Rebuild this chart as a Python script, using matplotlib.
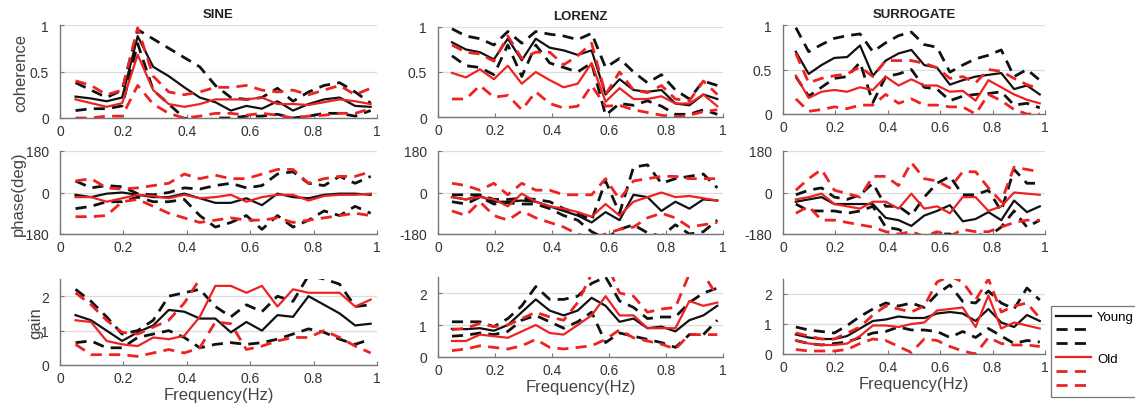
import numpy as np
from matplotlib import pyplot as plt
from matplotlib.lines import Line2D

# frequências (Hz)
freq = [0.049, 0.098, 0.147, 0.196, 0.245, 0.294, 0.343, 0.392, 0.441, 0.490,
        0.539, 0.588, 0.637, 0.686, 0.735, 0.784, 0.833, 0.882, 0.931, 0.980]

titles = ["SINE", "LORENZ", "SURROGATE"]
ylabels = ["coherence", "phase(deg)", "gain"]

# ---------------- coherence ----------------
sine_coh_young = [0.23, 0.21, 0.18, 0.22, 0.88, 0.55, 0.45, 0.33, 0.22, 0.17, 0.08, 0.13, 0.10, 0.18, 0.08, 0.15, 0.20, 0.22, 0.13, 0.12]
sine_coh_young_hi = [0.38, 0.30, 0.22, 0.30, 0.95, 0.85, 0.75, 0.65, 0.55, 0.35, 0.22, 0.20, 0.22, 0.32, 0.18, 0.28, 0.35, 0.38, 0.28, 0.16]
sine_coh_young_lo = [0.08, 0.10, 0.10, 0.13, 0.80, 0.30, 0.15, 0.00, -0.05, 0.00, 0.00, 0.02, 0.02, 0.04, 0.00, 0.02, 0.05, 0.05, 0.02, 0.08]
sine_coh_old = [0.20, 0.16, 0.12, 0.16, 0.68, 0.30, 0.15, 0.12, 0.15, 0.20, 0.20, 0.20, 0.22, 0.15, 0.15, 0.14, 0.17, 0.20, 0.18, 0.15]
sine_coh_old_hi = [0.40, 0.35, 0.25, 0.30, 0.97, 0.45, 0.28, 0.25, 0.28, 0.33, 0.33, 0.35, 0.30, 0.28, 0.30, 0.25, 0.30, 0.35, 0.25, 0.32]
sine_coh_old_lo = [0.00, 0.00, 0.02, 0.02, 0.35, 0.15, 0.05, 0.00, 0.02, 0.05, 0.05, 0.03, 0.05, 0.03, 0.00, 0.02, 0.03, 0.05, 0.05, 0.10]

lor_coh_young = [0.83, 0.75, 0.72, 0.64, 0.87, 0.63, 0.87, 0.77, 0.74, 0.69, 0.74, 0.25, 0.42, 0.30, 0.28, 0.30, 0.15, 0.13, 0.25, 0.20]
lor_coh_young_hi = [0.98, 0.90, 0.87, 0.80, 0.95, 0.82, 0.95, 0.92, 0.90, 0.86, 0.93, 0.55, 0.65, 0.50, 0.38, 0.47, 0.30, 0.20, 0.40, 0.35]
lor_coh_young_lo = [0.68, 0.57, 0.55, 0.47, 0.80, 0.45, 0.80, 0.60, 0.55, 0.50, 0.60, 0.02, 0.15, 0.13, 0.18, 0.12, 0.03, 0.03, 0.08, 0.03]
lor_coh_old = [0.49, 0.44, 0.53, 0.42, 0.57, 0.37, 0.50, 0.41, 0.33, 0.37, 0.60, 0.17, 0.32, 0.20, 0.20, 0.23, 0.15, 0.15, 0.25, 0.12]
lor_coh_old_hi = [0.80, 0.72, 0.70, 0.62, 0.90, 0.65, 0.72, 0.72, 0.58, 0.68, 0.82, 0.25, 0.50, 0.30, 0.27, 0.35, 0.20, 0.18, 0.40, 0.25]
lor_coh_old_lo = [0.20, 0.20, 0.35, 0.22, 0.24, 0.08, 0.28, 0.15, 0.10, 0.12, 0.35, 0.12, 0.13, 0.08, 0.05, 0.02, 0.00, 0.02, 0.06, 0.08]

sur_coh_young = [0.70, 0.45, 0.55, 0.63, 0.64, 0.77, 0.43, 0.60, 0.68, 0.72, 0.55, 0.52, 0.33, 0.38, 0.42, 0.44, 0.46, 0.28, 0.32, 0.22]
sur_coh_young_hi = [0.97, 0.70, 0.78, 0.85, 0.88, 0.90, 0.70, 0.80, 0.88, 0.92, 0.78, 0.75, 0.47, 0.55, 0.62, 0.66, 0.72, 0.42, 0.50, 0.38]
sur_coh_young_lo = [0.42, 0.20, 0.30, 0.40, 0.42, 0.58, 0.13, 0.42, 0.45, 0.50, 0.30, 0.28, 0.15, 0.20, 0.22, 0.23, 0.25, 0.10, 0.12, 0.07]
sur_coh_old = [0.43, 0.18, 0.25, 0.27, 0.25, 0.30, 0.27, 0.42, 0.32, 0.39, 0.32, 0.32, 0.25, 0.26, 0.15, 0.38, 0.30, 0.22, 0.16, 0.12]
sur_coh_old_hi = [0.68, 0.35, 0.40, 0.43, 0.45, 0.53, 0.42, 0.60, 0.60, 0.60, 0.57, 0.52, 0.40, 0.42, 0.35, 0.50, 0.48, 0.40, 0.33, 0.28]
sur_coh_old_lo = [0.17, 0.03, 0.05, 0.08, 0.06, 0.10, 0.10, 0.22, 0.12, 0.17, 0.10, 0.10, 0.08, 0.08, 0.00, 0.22, 0.15, 0.05, 0.00, 0.00]

# ---------------- phase ----------------
sine_ph_young = [-10, -20, -5, 0, -10, -20, -20, -5, -25, -45, -45, -25, -55, -5, -20, -25, -10, -5, -5, -10]
sine_ph_young_hi = [50, 20, 30, 25, -5, -10, 0, 20, 15, 30, 40, 20, 30, 80, 90, 40, 30, 70, 40, 70]
sine_ph_young_lo = [-70, -60, -40, -40, -20, -40, -40, -30, -100, -150, -130, -100, -160, -100, -150, -120, -80, -100, -60, -90]
sine_ph_old = [-20, -20, -40, -25, -10, -15, -25, -10, -25, -20, -10, -40, -20, -10, -10, -35, -15, -10, -10, -5]
sine_ph_old_hi = [50, 60, 20, 15, 20, 30, 40, 80, 60, 75, 60, 60, 80, 100, 100, 40, 60, 70, 70, 90]
sine_ph_old_lo = [-105, -105, -100, -40, -30, -60, -90, -110, -130, -120, -110, -120, -120, -110, -130, -120, -110, -100, -90, -100]

lor_ph_young = [-20, -30, -15, -40, -40, -35, -40, -60, -80, -100, -130, -85, -120, -10, -20, -80, -40, -70, -30, -35]
lor_ph_young_hi = [-10, -10, -10, -30, -30, -25, -30, -40, -70, -90, -120, 50, -90, 110, 120, 40, 60, 70, 80, 20]
lor_ph_young_lo = [-40, -50, -20, -50, -45, -50, -50, -70, -100, -120, -170, -200, -160, -140, -175, -190, -140, -180, -170, -120]
lor_ph_old = [-20, -30, -20, -30, -60, -5, -40, -60, -70, -85, -105, -50, -100, -40, -20, 0, -20, -15, -25, -35]
lor_ph_old_hi = [40, 30, 10, 40, -10, 40, 10, 10, -10, -10, -10, 60, -30, 50, 60, 70, 70, 60, 60, 60]
lor_ph_old_lo = [-80, -100, -40, -100, -120, -80, -110, -130, -150, -180, -200, -180, -160, -150, -110, -90, -110, -150, -140, -130]

sur_ph_young = [-40, -30, -20, -50, -50, -50, -50, -110, -120, -145, -100, -80, -55, -125, -115, -85, -120, -35, -85, -60]
sur_ph_young_hi = [-10, 10, 20, -20, -30, -10, 40, -60, -60, -100, -20, 40, 70, -10, -10, 10, -80, 100, 40, 40]
sur_ph_young_lo = [-50, -80, -80, -80, -90, -80, -60, -150, -160, -190, -190, -180, -180, -200, -180, -190, -150, -80, -150, -120]
sur_ph_old = [-30, -20, -5, -50, -60, -70, -40, -40, -70, -5, -70, -60, -90, -20, -20, -80, -60, 0, -5, -10]
sur_ph_old_hi = [10, 60, 100, 10, -5, -20, 70, 70, 30, 130, 60, 50, 20, 90, 90, 20, -40, 110, 100, 90]
sur_ph_old_lo = [-90, -60, -120, -120, -130, -140, -150, -170, -180, -170, -190, -170, -190, -160, -170, -170, -150, -130, -120, -120]

# ---------------- gain ----------------
sine_g_young = [1.45, 1.30, 1.00, 0.70, 0.95, 1.15, 1.60, 1.55, 1.35, 1.35, 0.95, 1.25, 1.00, 1.45, 1.40, 2.00, 1.75, 1.50, 1.15, 1.20]
sine_g_young_hi = [2.20, 1.85, 1.40, 0.90, 1.00, 1.30, 2.00, 2.10, 2.20, 1.70, 1.40, 1.75, 1.55, 2.00, 1.85, 2.60, 2.50, 2.35, 1.70, 1.75]
sine_g_young_lo = [0.65, 0.70, 0.50, 0.50, 0.80, 0.90, 1.00, 0.80, 0.50, 0.60, 0.65, 0.60, 0.65, 0.75, 0.90, 1.05, 0.95, 0.75, 0.60, 0.75]
sine_g_old = [1.30, 1.25, 0.70, 0.60, 0.55, 0.80, 0.75, 0.85, 1.40, 2.30, 2.30, 2.10, 2.30, 1.70, 2.20, 2.10, 2.10, 2.10, 1.70, 1.90]
sine_g_old_hi = [2.10, 1.75, 1.30, 0.95, 0.90, 1.10, 1.30, 1.80, 2.50, 3.00, 3.20, 3.00, 3.20, 2.80, 3.10, 3.00, 3.00, 3.00, 2.70, 2.80]
sine_g_old_lo = [0.60, 0.30, 0.30, 0.30, 0.25, 0.35, 0.45, 0.35, 0.50, 1.25, 1.20, 0.45, 0.55, 0.70, 0.80, 0.80, 1.00, 0.80, 0.55, 0.35]

lor_g_young = [0.88, 0.87, 0.90, 0.82, 1.00, 1.40, 1.80, 1.45, 1.30, 1.45, 1.85, 1.60, 1.10, 1.20, 0.90, 0.95, 0.80, 1.15, 1.30, 1.60]
lor_g_young_hi = [1.10, 1.10, 1.10, 0.95, 1.20, 1.60, 2.20, 1.80, 1.80, 1.90, 2.30, 2.50, 1.75, 1.55, 1.20, 1.25, 1.25, 1.70, 2.00, 2.15]
lor_g_young_lo = [0.65, 0.68, 0.75, 0.70, 0.80, 1.15, 1.30, 1.10, 0.90, 1.10, 1.40, 0.45, 0.75, 0.65, 0.55, 0.45, 0.30, 0.70, 0.70, 1.15]
lor_g_old = [0.50, 0.50, 0.70, 0.65, 0.60, 0.80, 1.00, 0.75, 0.70, 1.00, 1.30, 1.90, 1.30, 1.30, 0.90, 0.90, 0.90, 1.75, 1.60, 1.70]
lor_g_old_hi = [0.85, 0.90, 1.05, 0.95, 1.00, 1.20, 1.40, 1.25, 1.15, 1.70, 2.60, 3.00, 2.00, 1.90, 1.40, 1.50, 1.55, 2.60, 2.60, 1.90]
lor_g_old_lo = [0.20, 0.25, 0.35, 0.30, 0.25, 0.35, 0.55, 0.30, 0.25, 0.30, 0.35, 0.55, 0.85, 0.60, 0.50, 0.40, 0.25, 0.70, 0.70, 0.70]

sur_g_young = [0.65, 0.55, 0.50, 0.50, 0.60, 0.85, 1.10, 1.15, 1.25, 1.20, 1.20, 1.35, 1.40, 1.35, 1.10, 1.50, 1.05, 0.90, 1.30, 1.10]
sur_g_young_hi = [0.90, 0.80, 0.75, 0.70, 0.95, 1.25, 1.50, 1.70, 1.60, 1.70, 1.55, 2.00, 2.30, 1.75, 1.70, 2.10, 1.70, 1.50, 2.20, 1.80]
sur_g_young_lo = [0.45, 0.35, 0.30, 0.35, 0.40, 0.55, 0.70, 0.75, 0.90, 0.80, 0.80, 0.75, 0.55, 0.75, 0.55, 0.85, 0.60, 0.35, 0.45, 0.40]
sur_g_old = [0.45, 0.35, 0.30, 0.30, 0.35, 0.60, 0.95, 0.95, 0.90, 1.00, 1.05, 1.45, 1.50, 1.55, 0.90, 1.95, 0.85, 1.05, 0.95, 0.85]
sur_g_old_hi = [0.70, 0.60, 0.50, 0.50, 0.70, 0.90, 1.30, 1.60, 1.50, 1.40, 1.60, 2.40, 2.60, 2.40, 1.80, 2.50, 1.40, 1.60, 1.70, 1.20]
sur_g_old_lo = [0.15, 0.10, 0.10, 0.10, 0.15, 0.35, 0.50, 0.45, 0.25, 0.05, 0.50, 0.45, 0.25, 0.10, 0.00, 0.55, 0.35, 0.30, 0.30, 0.25]

# grade de dados [linha][coluna] -> (jovem, jovem_sup, jovem_inf, idoso, idoso_sup, idoso_inf)
panels = [
    [(sine_coh_young, sine_coh_young_hi, sine_coh_young_lo, sine_coh_old, sine_coh_old_hi, sine_coh_old_lo),
     (lor_coh_young, lor_coh_young_hi, lor_coh_young_lo, lor_coh_old, lor_coh_old_hi, lor_coh_old_lo),
     (sur_coh_young, sur_coh_young_hi, sur_coh_young_lo, sur_coh_old, sur_coh_old_hi, sur_coh_old_lo)],
    [(sine_ph_young, sine_ph_young_hi, sine_ph_young_lo, sine_ph_old, sine_ph_old_hi, sine_ph_old_lo),
     (lor_ph_young, lor_ph_young_hi, lor_ph_young_lo, lor_ph_old, lor_ph_old_hi, lor_ph_old_lo),
     (sur_ph_young, sur_ph_young_hi, sur_ph_young_lo, sur_ph_old, sur_ph_old_hi, sur_ph_old_lo)],
    [(sine_g_young, sine_g_young_hi, sine_g_young_lo, sine_g_old, sine_g_old_hi, sine_g_old_lo),
     (lor_g_young, lor_g_young_hi, lor_g_young_lo, lor_g_old, lor_g_old_hi, lor_g_old_lo),
     (sur_g_young, sur_g_young_hi, sur_g_young_lo, sur_g_old, sur_g_old_hi, sur_g_old_lo)],
]

ylims = [(0, 1), (-180, 180), (0, 2.5)]
yticks = [([0, 0.5, 1], ["0", "0.5", "1"]), ([-180, 0, 180], ["-180", "0", "180"]), ([0, 1, 2], ["0", "1", "2"])]
xticks = [0, 0.2, 0.4, 0.6, 0.8, 1]
xticklabels = ["0", "0.2", "0.4", "0.6", "0.8", "1"]

# caixas dos eixos em pixels (esquerda, direita, topo, base)
col_x = [(60, 377), (438, 723), (783, 1045)]
row_y = [[(26, 119), (28, 118), (26, 115)],
         [(152, 235), (152, 235), (152, 235)],
         [(280, 366), (278, 358), (280, 355)]]
ylabel_x = [28, 26, 43]   # borda direita do ylabel em pixels

W, H = 1135, 406
plt.rcParams['font.family'] = ['Liberation Sans', 'DejaVu Sans']

fig = plt.figure(figsize=(W / 100, H / 100), dpi=100)

BLACK = "#111111"
RED = "#ee2222"
dash = (0, (4.0, 2.6))

for r in range(3):
    for c in range(3):
        x0, x1 = col_x[c]
        yt, yb = row_y[r][c]
        ax = fig.add_axes([x0 / W, 1 - yb / H, (x1 - x0) / W, (yb - yt) / H])
        yng, yng_hi, yng_lo, old, old_hi, old_lo = panels[r][c]

        ax.plot(freq, yng_hi, color=BLACK, lw=2.0, ls=dash)
        ax.plot(freq, yng_lo, color=BLACK, lw=2.0, ls=dash)
        ax.plot(freq, yng, color=BLACK, lw=1.6)
        ax.plot(freq, old_hi, color=RED, lw=2.0, ls=dash)
        ax.plot(freq, old_lo, color=RED, lw=2.0, ls=dash)
        ax.plot(freq, old, color=RED, lw=1.6)

        ax.set_xlim(0, 1)
        ax.set_ylim(*ylims[r])
        ax.set_xticks(xticks)
        ax.set_xticklabels(xticklabels)
        ax.set_yticks(yticks[r][0])
        ax.set_yticklabels(yticks[r][1])
        ax.yaxis.grid(True, color="#dddddd", lw=0.9)
        ax.set_axisbelow(True)
        for s in ["top", "right"]:
            ax.spines[s].set_visible(False)
        for s in ["left", "bottom"]:
            ax.spines[s].set_color("#777777")
            ax.spines[s].set_linewidth(1.0)
        ax.tick_params(direction="in", length=3, color="#777777", labelsize=10,
                       labelcolor="#333333")
        ax.tick_params(axis="x", pad=4.5)
        ax.tick_params(axis="y", pad=8)

        if r == 0:
            ax.set_title(titles[c], fontsize=9.5, fontweight="bold", color="#222222", pad=6)
        if c == 0:
            ax.set_ylabel(ylabels[r], fontsize=12, color="#444444")
            ax.yaxis.set_label_coords((ylabel_x[r] - x0) / (x1 - x0), 0.5)
        if r == 2:
            ax.set_xlabel("Frequency(Hz)", fontsize=12, color="#444444", labelpad=1)

# legenda
handles = [Line2D([], [], color=BLACK, lw=1.6),
           Line2D([], [], color=BLACK, lw=2.0, ls=dash),
           Line2D([], [], color=BLACK, lw=2.0, ls=dash),
           Line2D([], [], color=RED, lw=1.6),
           Line2D([], [], color=RED, lw=2.0, ls=dash),
           Line2D([], [], color=RED, lw=2.0, ls=dash)]
labels = ["Young", "", "", "Old", "", ""]
leg = fig.legend(handles, labels, loc="lower left", bbox_to_anchor=(1051 / W, 8 / H),
                 fontsize=9.5, frameon=True, fancybox=False, edgecolor="#555555",
                 handlelength=2.7, handletextpad=0.45, labelspacing=0.12,
                 borderpad=0.35, borderaxespad=0)
leg.get_frame().set_linewidth(0.9)

fig.savefig("out.png", dpi=100)
